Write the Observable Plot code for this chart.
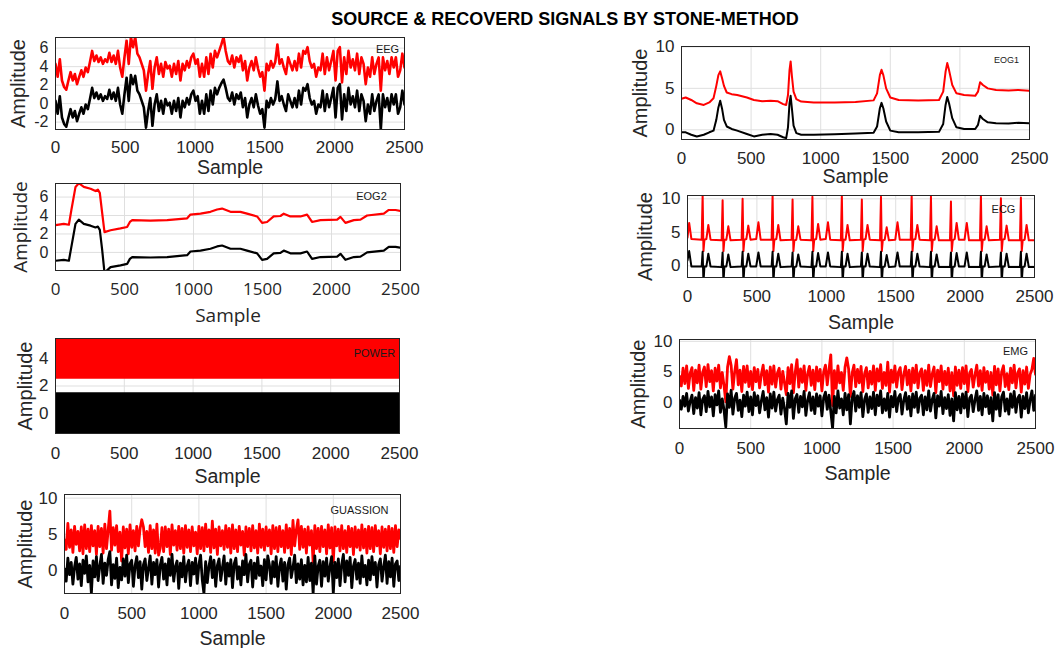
<!DOCTYPE html>
<html>
<head>
<meta charset="utf-8">
<script src="https://cdn.jsdelivr.net/npm/d3@7"></script>
<script src="https://cdn.jsdelivr.net/npm/@observablehq/plot@0.6"></script>
<style>
  html, body { margin: 0; padding: 0; background: #fff; }
  #chart { position: relative; width: 1056px; height: 648px; overflow: hidden; background: #fff; }
  #title { position: absolute; left: 265px; width: 600px; top: 9px; line-height: 21px; text-align: center;
           font: bold 18px "Liberation Sans", Arial, sans-serif; color: #000; }
</style>
</head>
<body>
<div id="chart"><div id="title">SOURCE &amp; RECOVERD SIGNALS BY STONE-METHOD</div></div>
<script>
// ---- shared axis ticks ----
const sampleTicks = [0, 500, 1000, 1500, 2000, 2500];

// ---- EEG (uniformly sampled trace) ----
const eegRecovered = [
  4.3, 2.9, 4.8, 2.5, 1.8, 1.5, 2.5, 3.4, 2.5, 3.2,
  2.1, 2.9, 3.6, 2.9, 3.9, 3.4, 4.5, 5.7, 4.6, 5.2,
  4.5, 5.0, 4.3, 4.8, 4.5, 5.5, 4.5, 5.2, 4.3, 5.7,
  3.9, 2.9, 5.0, 6.8, 4.3, 7.2, 6.1, 7.2, 5.4, 5.0,
  4.3, 3.6, 1.4, 3.2, 4.6, 1.6, 3.9, 5.0, 3.2, 4.3,
  2.9, 4.5, 3.8, 4.1, 2.9, 4.3, 3.2, 4.6, 2.5, 4.3,
  3.6, 4.6, 3.9, 5.0, 5.4, 4.3, 4.8, 2.9, 4.3, 2.9,
  5.0, 3.2, 5.4, 3.9, 5.7, 5.0, 5.7, 6.4, 7.2, 5.7,
  4.6,
  4.3, 5.2, 3.9, 5.0, 4.5, 5.2, 3.6, 4.6, 2.5, 3.9,
  4.6, 3.6, 5.0, 3.8, 2.9, 3.4, 1.4, 4.3, 3.6, 4.6,
  3.9, 4.5, 6.4, 4.3, 4.8, 3.9, 3.2, 5.0, 4.3, 3.6,
  4.6, 3.6, 5.4, 3.9, 5.7, 5.4, 6.1, 4.6, 3.9, 4.3,
  2.9, 3.9, 3.6, 5.4, 3.2, 5.0, 3.6, 4.6, 5.7, 2.5,
  5.7, 6.1, 2.3, 5.0, 3.2, 5.7, 3.9, 4.8, 3.6, 5.4,
  3.2, 5.0, 4.3, 2.1, 3.9, 2.9, 5.0, 3.2, 4.3, 5.0,
  1.4, 5.0, 3.6, 4.6, 3.2, 5.0, 3.9, 5.0, 2.9, 3.6,
  5.4, 3.9
];
const eegSource = [
  0.3, -1.1, 0.8, -1.5, -2.2, -2.5, -1.5, -0.6, -1.5, -0.8,
  -1.9, -1.1, -0.4, -1.1, -0.1, -0.6, 0.5, 1.7, 0.6, 1.2,
  0.5, 1.0, 0.3, 0.8, 0.5, 1.5, 0.5, 1.2, 0.3, 1.7,
  -0.1, -1.1, 1.0, 2.8, 0.3, 3.1, 2.1, 3.0, 1.4, 1.0,
  0.3, -0.4, -2.6, -0.8, 0.6, -2.4, -0.1, 1.0, -0.8, 0.3,
  -1.1, 0.5, -0.2, 0.1, -1.1, 0.3, -0.8, 0.6, -1.5, 0.3,
  -0.4, 0.6, -0.1, 1.0, 1.4, 0.3, 0.8, -1.1, 0.3, -1.1,
  1.0, -0.8, 1.4, -0.1, 1.7, 1.0, 1.7, 2.2, 2.6, 1.7,
  0.6,
  0.3, 1.2, -0.1, 1.0, 0.5, 1.2, -0.4, 0.6, -1.5, -0.1,
  0.6, -0.4, 1.0, -0.2, -1.1, -0.6, -2.6, 0.3, -0.4, 0.6,
  -0.1, 0.5, 2.4, 0.3, 0.8, -0.1, -0.8, 1.0, 0.3, -0.4,
  0.6, -0.4, 1.4, -0.1, 1.7, 1.4, 2.1, 0.6, -0.1, 0.3,
  -1.1, -0.1, -0.4, 1.4, -0.8, 1.0, -0.4, 0.6, 1.7, -1.5,
  1.7, 2.1, -1.7, 1.0, -0.8, 1.7, -0.1, 0.8, -0.4, 1.4,
  -0.8, 1.0, 0.3, -1.9, -0.1, -1.1, 1.0, -0.8, 0.3, 1.0,
  -2.8, 1.0, -0.4, 0.6, -0.8, 1.0, -0.1, 1.0, -1.1, -0.4,
  1.4, -0.1
];

// ---- EOG1 ----
const eog1Sample = [0, 30, 70, 110, 160, 200, 230, 250, 265, 278, 292, 305, 325, 360, 400, 470, 520, 580, 640, 690,
  730, 752, 765, 776, 784, 793, 805, 825, 860, 950, 1100, 1250, 1380, 1405, 1425, 1437, 1450, 1470, 1500, 1560,
  1700, 1850, 1880, 1897, 1909, 1922, 1945, 1975, 2030, 2110, 2130, 2145, 2165, 2200, 2260, 2350, 2420, 2500];
const eog1Recovered = [3.75, 3.9, 3.6, 3.2, 3.0, 3.3, 3.8, 5.3, 6.6, 7.05, 6.2, 5.3, 4.5, 4.3, 4.2, 3.9, 3.6, 3.45, 3.5, 3.45,
  3.1, 3.0, 4.2, 7.2, 8.25, 6.5, 4.6, 3.7, 3.4, 3.3, 3.3, 3.35, 3.55, 4.4, 6.6, 7.25, 6.6, 5.0, 3.9, 3.6,
  3.55, 3.6, 4.6, 7.0, 8.05, 7.2, 5.4, 4.4, 4.2, 4.1, 4.6, 5.75, 5.4, 5.0, 4.8, 4.75, 4.8, 4.7];
const eog1Source = [-0.3, -0.3, -0.6, -0.8, -0.6, -0.3, -0.1, 1.2, 2.7, 3.5, 2.5, 1.2, 0.4, 0.1, -0.1, -0.5, -0.8, -0.6, -0.5, -0.6,
  -0.9, -1.0, 0.3, 3.2, 4.1, 2.6, 0.5, -0.4, -0.6, -0.6, -0.55, -0.45, -0.35, 0.4, 2.6, 3.25, 2.6, 1.0, -0.1, -0.3,
  -0.3, -0.25, 0.7, 3.0, 3.95, 3.2, 1.4, 0.3, 0.1, 0.1, 0.6, 1.7, 1.3, 0.9, 0.8, 0.75, 0.85, 0.8];

// ---- EOG2 ----
const eog2Sample = [0, 60, 97, 115, 145, 169, 205, 254, 290, 307, 321, 338, 355, 399, 471, 519, 539, 556, 688, 809,
  954, 978, 1051, 1123, 1171, 1207, 1268, 1340, 1388, 1461, 1497, 1533, 1581, 1630, 1654, 1702, 1775, 1823, 1859, 1920,
  2041, 2065, 2101, 2162, 2210, 2258, 2379, 2415, 2464, 2500];
const eog2Recovered = [2.95, 3.1, 3.0, 4.6, 7.1, 7.5, 7.1, 6.9, 6.65, 6.8, 6.45, 4.3, 2.2, 2.4, 2.6, 2.75, 3.3, 3.5, 3.45, 3.5,
  3.7, 4.1, 4.2, 4.4, 4.65, 4.75, 4.4, 4.4, 4.2, 3.9, 3.2, 3.3, 3.9, 3.95, 4.2, 3.9, 3.9, 4.1, 3.3, 3.5,
  3.55, 3.85, 3.2, 3.5, 3.55, 4.0, 4.2, 4.6, 4.6, 4.5];
const eog2Source = [-0.9, -0.8, -0.9, 0.6, 3.1, 3.55, 3.1, 2.9, 2.7, 2.8, 2.45, 0.3, -2.2, -1.6, -1.4, -1.25, -0.7, -0.5, -0.55, -0.5,
  -0.3, 0.1, 0.2, 0.4, 0.65, 0.75, 0.4, 0.4, 0.2, -0.1, -0.8, -0.7, -0.1, -0.05, 0.2, -0.1, -0.1, 0.1, -0.7, -0.5,
  -0.45, -0.15, -0.8, -0.5, -0.45, 0.0, 0.2, 0.6, 0.6, 0.5];

// ---- ECG ----
const ecgSample = [0, 12, 28,
  102, 109, 115, 122, 136, 150, 166,
  246, 253, 259, 266, 280, 294, 310,
  390, 397, 403, 410, 424, 438, 454,
  495, 511, 527,
  606, 613, 619, 626, 640, 654, 670,
  750, 757, 763, 770, 784, 798, 814,
  893, 900, 906, 913, 927, 941, 957,
  996, 1012, 1028,
  1105, 1112, 1118, 1125, 1139, 1153, 1169,
  1249, 1256, 1262, 1269, 1283, 1297, 1313,
  1387, 1394, 1400, 1407, 1421, 1435, 1451,
  1497, 1513, 1529,
  1608, 1615, 1621, 1628, 1642, 1656, 1672,
  1747, 1754, 1760, 1767, 1781, 1795, 1811,
  1891, 1898, 1904, 1911, 1925, 1939, 1955,
  1996, 2012, 2028,
  2107, 2114, 2120, 2127, 2141, 2155, 2171,
  2251, 2258, 2264, 2271, 2285, 2299, 2315,
  2395, 2402, 2408, 2415, 2429, 2443, 2459,
  2500];
const ecgRecovered = [4.2, 6.4, 4.0,
  3.9, 10.6, 2.2, 3.9, 4.0, 6.1, 3.9,
  3.8, 9.8, 2.2, 3.9, 3.9, 5.9, 3.8,
  3.9, 10.0, 2.2, 3.9, 4.0, 6.0, 3.9,
  4.0, 6.5, 3.9,
  3.9, 10.6, 2.2, 3.9, 4.0, 6.1, 3.8,
  3.9, 9.9, 2.2, 3.8, 3.9, 5.9, 3.9,
  3.8, 10.3, 2.2, 3.9, 4.0, 6.25, 3.9,
  4.0, 6.5, 3.9,
  3.8, 10.6, 2.2, 3.9, 3.9, 6.1, 3.8,
  3.9, 9.9, 2.2, 3.9, 4.0, 6.1, 3.9,
  3.8, 10.3, 2.2, 3.8, 3.9, 5.75, 3.8,
  3.9, 6.5, 3.9,
  3.9, 10.6, 2.2, 3.9, 4.0, 6.1, 3.9,
  3.8, 10.4, 2.2, 3.9, 3.9, 5.9, 3.8,
  3.8, 9.6, 2.2, 3.8, 4.0, 6.4, 3.9,
  3.9, 6.4, 3.8,
  3.8, 10.6, 2.2, 3.9, 3.9, 5.9, 3.8,
  3.9, 10.1, 2.2, 3.9, 4.0, 6.0, 3.8,
  3.8, 10.2, 2.2, 3.8, 3.9, 6.1, 3.8,
  3.8];
const ecgSource = [0.8, 2.2, -0.1,
  -0.1, 2.1, -2.5, -0.1, -0.1, 1.8, -0.1,
  -0.2, 2.0, -2.5, -0.1, -0.1, 1.7, -0.2,
  -0.1, 2.1, -2.5, -0.1, -0.1, 1.8, -0.1,
  -0.1, 2.0, -0.1,
  -0.1, 2.1, -2.5, -0.1, -0.1, 1.8, -0.2,
  -0.1, 2.0, -2.5, -0.2, -0.1, 1.7, -0.1,
  -0.2, 2.1, -2.5, -0.1, -0.1, 1.9, -0.1,
  -0.1, 2.0, -0.1,
  -0.2, 2.1, -2.5, -0.1, -0.1, 1.8, -0.2,
  -0.1, 2.0, -2.5, -0.1, -0.1, 1.8, -0.1,
  -0.2, 2.1, -2.5, -0.2, -0.1, 1.6, -0.2,
  -0.1, 2.0, -0.1,
  -0.1, 2.1, -2.5, -0.1, -0.1, 1.8, -0.1,
  -0.2, 2.1, -2.5, -0.1, -0.1, 1.7, -0.2,
  -0.2, 2.0, -2.5, -0.2, -0.1, 1.9, -0.1,
  -0.1, 2.0, -0.2,
  -0.2, 2.1, -2.5, -0.1, -0.1, 1.7, -0.2,
  -0.1, 2.0, -2.5, -0.1, -0.1, 1.8, -0.2,
  -0.2, 2.1, -2.5, -0.2, -0.1, 1.8, -0.2,
  -0.2];

// ---- POWER (mains interference: envelope of the dense sinusoid) ----
const powerSample = [0, 2500];
const powerSourceLow = [-1.5, -1.5];
const powerSourceHigh = [1.5, 1.5];
const powerRecoveredLow = [2.5, 2.5];
const powerRecoveredHigh = [5.5, 5.5];

// ---- EMG (uniformly sampled) ----
const emgSource = [
  0.4, -1.1, 1.0, -0.6, 1.5, -1.4, 0.2, 1.2, -1.8, 0.8, -0.9, 1.6, -2.0, 0.5, 1.1, -1.5, 1.8, -0.7, 0.9, -2.2,
  1.3, -0.4, 1.9, -1.6, 0.6, -1.2, -4.0, 1.4, -0.8, 2.0, -1.9, 0.7, 1.5, -1.3, 0.4, -2.3, 1.2, -0.6, 1.7, -1.5,
  0.9, -2.0, 1.6, -0.5, 1.1, -1.7, 0.3, 1.8, -1.2, 0.8, -2.4, 1.4, -0.9, 1.7, -1.4, 0.5, 1.2, -1.9, 0.7, -1.0,
  -3.5, 1.5, -0.8, 1.9, -2.6, 0.6, 1.3, -1.6, 1.0, -0.7, 1.8, -2.1, 0.4, 1.6, -1.3, 0.9, -1.8, 1.4, -0.6, 1.1,
  -2.2, 0.8, 1.7, -1.1, 1.2, -1.5, -4.2, 1.0, -1.7, 1.9, -0.9, 0.6, -2.0, 1.5, -1.2, 1.3, -3.5, 0.7, 1.8, -1.4,
  1.1, -0.8, 1.6, -2.3, 0.5, 1.4, -1.6, 0.9, -1.0, 1.7, -2.0, 1.2, -0.5, 1.9, -1.7, 0.6, -1.3, 1.5, -2.4, 1.0,
  -0.7, 1.8, -1.5, 0.8, 1.3, -1.9, 0.4, 1.6, -1.1, 1.0, -2.2, 1.4, -0.8, 1.7, -1.6, 0.7, 1.2, -2.0, 0.9, -1.2,
  1.9, -1.4, 0.5, 1.5, -2.5, 1.1, -0.6, 1.8, -1.8, 0.8, -1.0, 1.3, -2.1, 0.6, -3.0, 1.6, -1.2, 1.0, -1.7, 1.4,
  -0.9, 1.7, -2.3, 0.7, 1.2, -1.5, 0.4, 1.9, -1.3, 1.0, -2.0, 1.5, -0.7, 1.1, -1.8, 0.8, -3.0, 1.6, -1.1, 1.3,
  -2.2, 0.9, 1.7, -1.4, 0.6, -1.9, 1.4, -0.8, 1.8, -1.6, 0.7, 1.2, -2.4, 1.0, -1.0, 1.6, -1.7, 0.5, 1.9, -1.3,
  1.2
];
const emgRecovered = [
  4.3, 2.7, 5.6, 3.1, 6.0, 2.3, 4.8, 5.7, 2.0, 5.3, 3.2, 6.1, 2.2, 4.9, 5.8, 2.6, 6.2, 3.4, 5.2, 1.9,
  5.6, 3.5, 6.1, 2.4, 4.9, 2.8, 0.1, 5.8, 7.5, 6.1, 2.2, 5.0, 7.0, 2.9, 5.3, 1.8, 5.9, 3.3, 6.0, 2.6,
  5.1, 2.1, 5.7, 3.4, 5.4, 2.4, 4.6, 6.1, 2.9, 5.2, 1.7, 5.8, 3.0, 6.0, 2.5, 4.8, 5.6, 2.2, 5.1, 3.2,
  1.3, 5.7, 3.1, 6.2, 1.6, 4.9, 7.0, 2.5, 5.5, 3.3, 6.0, 2.0, 4.7, 5.9, 2.8, 5.3, 2.1, 5.8, 3.5, 5.4,
  1.9, 5.0, 6.1, 2.9, 5.4, 7.8, -0.5, 5.2, 2.3, 6.0, 3.2, 4.9, 2.0, 5.8, 7.3, 5.5, 1.0, 4.8, 6.1, 2.6,
  5.4, 3.2, 5.9, 1.8, 4.7, 5.7, 2.4, 5.1, 3.0, 6.0, 2.0, 5.5, 3.5, 6.2, 2.3, 4.9, 2.8, 6.6, 1.7, 5.3,
  3.3, 6.0, 2.5, 5.0, 5.7, 2.1, 4.6, 5.9, 2.9, 5.3, 1.9, 5.6, 3.2, 6.1, 2.4, 4.8, 5.5, 2.0, 5.2, 2.8,
  6.1, 2.6, 4.7, 5.8, 1.6, 5.3, 3.4, 6.0, 2.2, 5.1, 2.9, 5.6, 1.9, 4.9, 1.1, 5.8, 2.8, 5.3, 2.3, 5.7,
  3.1, 6.0, 1.8, 4.8, 5.4, 2.5, 4.5, 6.1, 2.7, 5.2, 2.0, 5.7, 3.3, 5.1, 2.2, 4.9, 1.2, 5.9, 2.9, 5.5,
  1.9, 5.0, 6.0, 2.6, 4.7, 2.1, 5.6, 3.2, 6.1, 2.4, 4.8, 5.5, 1.7, 5.2, 3.0, 5.8, 2.3, 4.6, 5.4, 7.2,
  4.6
];

// ---- GUASSION noise (uniformly sampled) ----
const gaussSource = [
  0.2, -1.5, 1.7, -0.6, 1.1, -1.9, 0.5, 1.8, -1.2, 0.9, -2.1, 1.4, -0.4, 2.0, -1.6, 0.7, -3.2, 1.3, -0.9, 1.9,
  -1.4, 0.6, 2.2, -1.8, 1.0, -0.7, 1.5, 2.6, -2.0, 0.8, -1.1, 1.7, -2.4, 0.4, -1.3, 1.6, -0.8, 2.1, -1.7, 0.9,
  1.4, -2.2, 0.6, 1.9, -1.0, 1.2, -2.6, 0.8, 1.6, -1.4, 0.3, 2.0, -1.9, 1.1, -0.6, 1.5, -2.3, 0.7, 1.8, -1.2,
  0.9, -2.0, 1.6, -0.7, 2.2, -1.5, 0.5, 1.3, -2.5, 1.0, -0.9, 1.9, -1.6, 0.6, 1.4, -2.1, 1.1, -0.5, 1.7, -1.8,
  0.8, 2.1, -1.3, -3.2, 1.2, -1.7, 0.6, 1.9, -1.0, 1.4, -2.2, 0.7, 1.6, -1.4, 0.4, 2.0, -1.9, 1.0, -0.8, 1.5,
  -2.4, 0.9, 1.7, -1.2, 0.5, -2.0, 1.3, -0.6, 2.2, -1.6, 0.8, 1.4, -2.3, 1.0, -1.1, 1.8, -0.7, 0.6, -2.1, 1.5,
  -1.3, 2.0, 0.7, -1.8, 1.2, -0.9, 1.9, -2.2, 0.5, 1.6, -1.5, 1.1, -2.6, 0.8, 1.7, -1.0, 0.4, 2.1, -1.7, 0.9,
  -1.2, 1.5, -2.0, 0.7, -1.6, 1.8, -1.4, 1.0, -3.2, 2.0, -1.9, 0.6, 1.4, -2.2, 1.2, -0.8, 1.7, -1.5, 0.5, 1.9,
  -3.2, 1.1, -1.0, 1.6, -2.1, 0.8, 2.2, -1.6, 1.3, -0.7, 1.8, -2.4, 0.6, 1.5, -1.2, 1.0, -1.8, 2.0, -0.9, 0.7,
  -2.0, 1.4, -1.3, 1.9, -0.6, 1.1, -2.3, 0.8, 1.6, -1.5, 0.5, 2.1, -1.8, 1.2, -0.9, 1.7, -2.2, 0.9, 1.3, -1.4,
  0.6
];
const gaussRecovered = [
  4.2, 2.9, 6.5, 3.2, 5.6, 2.5, 6.1, 3.6, 5.4, 2.7, 6.0, 2.3, 6.3, 3.0, 5.7, 2.6, 6.2, 3.4, 5.5, 2.2,
  6.1, 3.3, 5.8, 2.4, 6.4, 3.0, 5.6, 8.2, 2.8, 5.9, 3.5, 6.2, 2.6, 5.3, 1.3, 6.0, 3.1, 5.7, 2.3, 6.3,
  3.2, 5.5, 2.7, 6.1, 3.4, 5.8, 7.0, 6.0, 3.3, 5.4, 2.5, 6.2, 3.0, 5.6, 2.4, 6.4, 2.1, 3.1, 5.9, 2.6,
  6.0, 3.3, 5.7, 2.2, 6.3, 3.5, 5.5, 2.8, 6.1, 3.0, 5.8, 2.4, 6.2, 3.2, 5.6, 2.6, 6.0, 3.4, 5.3, 2.3,
  6.1, 3.0, 5.9, 2.7, 6.4, 3.3, 5.6, 2.5, 6.8, 3.1, 5.7, 2.2, 6.0, 3.4, 5.5, 2.9, 6.2, 3.2, 5.8, 2.4,
  6.3, 3.0, 5.6, 2.6, 6.1, 3.5, 5.4, 2.1, 6.0, 3.3, 5.8, 2.7, 6.2, 3.1, 5.5, 2.4, 6.4, 3.2, 5.7, 2.8,
  6.0, 3.4, 5.6, 2.3, 6.2, 3.0, 5.9, 2.6, 6.1, 3.3, 5.5, 2.5, 6.3, 3.1, 5.8, 2.2, 6.9, 3.4, 5.6, 7.0,
  2.9, 6.1, 3.2, 5.7, 2.4, 6.0, 3.5, 5.5, 1.1, 6.2, 3.0, 5.8, 2.6, 6.1, 3.3, 5.6, 2.3, 6.3, 3.1, 5.9,
  1.2, 6.0, 3.4, 5.7, 2.7, 6.2, 3.0, 5.5, 2.5, 6.1, 3.3, 5.8, 2.2, 6.0, 3.2, 5.6, 2.8, 6.3, 3.1, 5.7,
  2.4, 6.1, 3.0, 5.9, 2.6, 6.2, 3.4, 5.5, 2.3, 6.0, 3.2, 5.7, 2.7, 6.1, 3.0, 5.8, 2.5, 6.2, 3.3, 5.6,
  4.4
];

// sample index for a trace stored at a constant step over 0..2500
const sampleIndex = (n) => d3.range(n).map((i) => (i * 2500) / (n - 1));

const chart = document.getElementById("chart");
const AXIS = "#262626";
const SANS = "'Liberation Sans', Arial, sans-serif";

function panel(cfg) {
  const [L, R, T, B] = cfg.frame;
  const ML = 64, MR = 34, MT = 12, MB = 60;
  const font = cfg.font || SANS;
  const traces = cfg.series.map((s) =>
    s.low
      ? Plot.areaY(s.x, {x: s.x, y1: s.low, y2: s.high, fill: s.color, clip: true})
      : Plot.line(s.y, {x: s.x, y: s.y, stroke: s.color, strokeWidth: cfg.lineWidth || 2, clip: true})
  );
  const svg = Plot.plot({
    width: ML + (R - L) + MR,
    height: MT + (B - T) + MB,
    marginLeft: ML, marginRight: MR, marginTop: MT, marginBottom: MB,
    x: {domain: [0, 2500]},
    y: {domain: cfg.yDomain},
    style: {background: "transparent", fontFamily: font, fontSize: "17px", color: AXIS, overflow: "visible"},
    marks: [
      Plot.gridX(sampleTicks, {stroke: "#dfdfdf", strokeOpacity: 1, strokeWidth: 1}),
      Plot.gridY(cfg.yTicks, {stroke: "#dfdfdf", strokeOpacity: 1, strokeWidth: 1}),
      ...traces,
      Plot.frame({stroke: AXIS, strokeWidth: 1}),
      Plot.axisX(sampleTicks, {tickSize: 0, tickPadding: cfg.xPad, label: null, tickFormat: (d) => String(d), fill: AXIS}),
      Plot.axisY(cfg.yTicks, {tickSize: 0, tickPadding: 7, label: null, tickFormat: (d) => String(d), fill: AXIS,
        fontSize: cfg.yTickSize || 17, fontFamily: cfg.yTickFont || font}),
      Plot.text(["Sample"], {text: (d) => d, frameAnchor: "bottom", dy: cfg.xLabelDy, lineAnchor: "middle",
        fontSize: cfg.labelSize || 19.5, fill: AXIS}),
      Plot.text(["Amplitude"], {text: (d) => d, frameAnchor: "left", dx: -cfg.yLabelDx, rotate: -90,
        textAnchor: "middle", lineAnchor: "middle", fontSize: cfg.labelSize || 20, fill: AXIS}),
      Plot.text([cfg.name], {text: (d) => d, frameAnchor: "top-right", dx: cfg.nameAt[0], dy: cfg.nameAt[1],
        textAnchor: "middle", lineAnchor: "middle", fontSize: cfg.nameSize || 11, fill: "#1a1a1a", fontFamily: SANS})
    ]
  });
  svg.style.position = "absolute";
  svg.style.left = `${L - ML}px`;
  svg.style.top = `${T - MT}px`;
  chart.appendChild(svg);
}

const eegX = sampleIndex(eegRecovered.length);
const emgX = sampleIndex(emgSource.length);
const gaussX = sampleIndex(gaussSource.length);

panel({name: "EEG", frame: [55, 404, 37, 129], yDomain: [-2.8, 7.15], yTicks: [-2, 0, 2, 4, 6],
  xPad: 11, xLabelDy: 38, yLabelDx: 37, nameAt: [-17, 12], lineWidth: 2.6, yTickSize: 16,
  series: [{x: eegX, y: eegRecovered, color: "red"}, {x: eegX, y: eegSource, color: "black"}]});

panel({name: "EOG1", frame: [681, 1029, 46, 139], yDomain: [-1.17, 10.05], yTicks: [0, 5, 10],
  xPad: 12.5, xLabelDy: 37, yLabelDx: 41, nameAt: [-23, 13.5], nameSize: 9, lineWidth: 2,
  series: [{x: eog1Sample, y: eog1Recovered, color: "red"}, {x: eog1Sample, y: eog1Source, color: "black"}]});

panel({name: "EOG2", frame: [55, 400, 183, 270], yDomain: [-1.96, 7.47], yTicks: [0, 2, 4, 6],
  xPad: 12.5, xLabelDy: 45.5, yLabelDx: 35, nameAt: [-29, 13], lineWidth: 2.2,
  font: "'Open Sans', 'Liberation Sans', sans-serif", labelSize: 19, yTickSize: 16, yTickFont: SANS,
  series: [{x: eog2Sample, y: eog2Recovered, color: "red"}, {x: eog2Sample, y: eog2Source, color: "black"}]});

panel({name: "ECG", frame: [687, 1034, 195, 277], yDomain: [-1.75, 10.5], yTicks: [0, 5, 10],
  xPad: 12.5, xLabelDy: 45, yLabelDx: 42, nameAt: [-31, 13.5], lineWidth: 2,
  series: [{x: ecgSample, y: ecgRecovered, color: "red"}, {x: ecgSample, y: ecgSource, color: "black"}]});

panel({name: "POWER", frame: [55, 399, 338, 433], yDomain: [-1.5, 5.5], yTicks: [0, 2, 4],
  xPad: 13, xLabelDy: 43.5, yLabelDx: 30, nameAt: [-25, 15],
  series: [{x: powerSample, low: powerRecoveredLow, high: powerRecoveredHigh, color: "red"},
           {x: powerSample, low: powerSourceLow, high: powerSourceHigh, color: "black"}]});

panel({name: "EMG", frame: [679, 1035, 339, 428], yDomain: [-4.25, 10.3], yTicks: [0, 5, 10],
  xPad: 13, xLabelDy: 45.5, yLabelDx: 41, nameAt: [-20, 12], lineWidth: 2.8,
  series: [{x: emgX, y: emgRecovered, color: "red"}, {x: emgX, y: emgSource, color: "black"}]});

panel({name: "GUASSION", frame: [64, 400, 494, 593], yDomain: [-3.2, 10.5], yTicks: [0, 5, 10],
  xPad: 13, xLabelDy: 45.5, yLabelDx: 39, nameAt: [-41, 16], lineWidth: 2.8,
  series: [{x: gaussX, y: gaussRecovered, color: "red"}, {x: gaussX, y: gaussSource, color: "black"}]});
</script>
</body>
</html>
